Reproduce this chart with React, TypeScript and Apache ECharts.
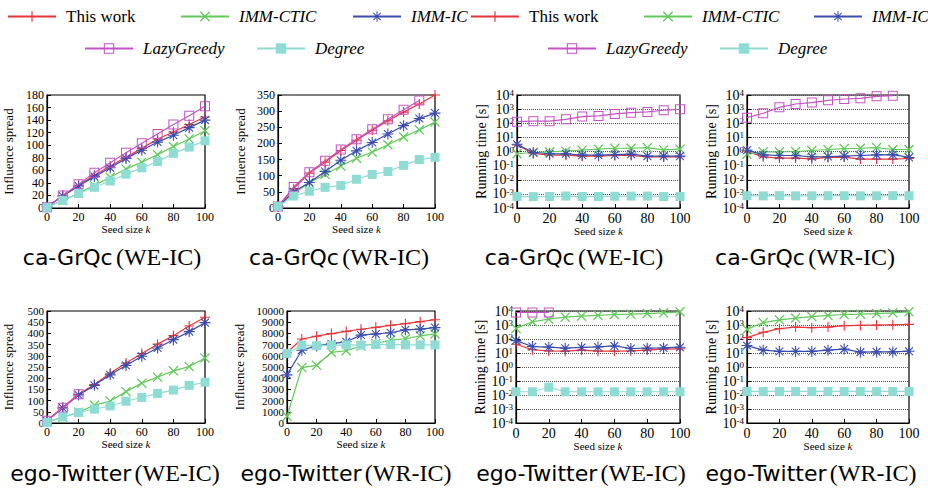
import React, { useEffect, useRef } from 'react';
import * as echarts from 'echarts';

// ---------- data ----------
const ks = [0, 10, 20, 30, 40, 50, 60, 70, 80, 90, 100];
const methodNames = ['This work', 'IMM-CTIC', 'IMM-IC', 'LazyGreedy', 'Degree'];

// ca-GrQc (WE-IC) influence spread
const grqcWeSpreadThis = [2, 19, 36, 52, 67, 81, 95, 110, 121, 133, 145];
const grqcWeSpreadCtic = [2, 12, 24, 36, 49, 62, 73, 85, 98, 110, 123];
const grqcWeSpreadIc = [2, 19, 35, 50, 64, 79, 92, 105, 116, 128, 140];
const grqcWeSpreadLazy = [1, 20, 38, 56, 72, 88, 103, 118, 133, 147, 162];
const grqcWeSpreadDegree = [1, 12, 23, 33, 43, 54, 64, 74, 87, 97, 107];

// ca-GrQc (WR-IC) influence spread
const grqcWrSpreadThis = [5, 60, 108, 142, 178, 210, 241, 270, 297, 322, 350];
const grqcWrSpreadCtic = [5, 45, 78, 104, 130, 154, 173, 196, 220, 242, 266];
const grqcWrSpreadIc = [5, 50, 79, 113, 148, 177, 203, 229, 255, 277, 294];
const grqcWrSpreadLazy = [5, 65, 111, 146, 181, 213, 244, 275, 304, 333];
const grqcWrSpreadDegree = [5, 37, 52, 64, 70, 89, 104, 113, 132, 150, 157];

// ca-GrQc (WE-IC) running time
const grqcWeTimeThis = [2.9, 0.72, 0.55, 0.55, 0.47, 0.47, 0.52, 0.52, 0.42, 0.42, 0.42];
const grqcWeTimeCtic = [0.69, 0.85, 0.95, 1.05, 1.24, 1.46, 1.7, 1.7, 1.9, 1.3, 1.46];
const grqcWeTimeIc = [3.3, 0.85, 0.69, 0.69, 0.55, 0.55, 0.6, 0.65, 0.47, 0.47, 0.47];
const grqcWeTimeLazy = [130, 140, 140, 190, 295, 330, 455, 565, 630, 830, 970];
const grqcWeTimeDegree = [0.00066, 0.00064, 0.00065, 0.0007, 0.00065, 0.00065, 0.00068, 0.0007, 0.0007, 0.00065, 0.00065];

// ca-GrQc (WR-IC) running time
const grqcWrTimeThis = [1.0, 0.42, 0.34, 0.34, 0.3, 0.38, 0.4, 0.29, 0.29, 0.29, 0.32];
const grqcWrTimeCtic = [0.65, 0.95, 0.95, 1.0, 1.18, 1.38, 1.6, 1.7, 1.9, 1.38, 1.38];
const grqcWrTimeIc = [1.24, 0.58, 0.52, 0.52, 0.42, 0.44, 0.47, 0.52, 0.58, 0.6, 0.38];
const grqcWrTimeLazy = [250, 510, 1340, 2300, 2900, 4200, 5200, 5800, 8000, 9000];
const grqcWrTimeDegree = [0.00074, 0.00072, 0.00075, 0.00072, 0.00073, 0.00074, 0.00074, 0.00072, 0.00073, 0.00075, 0.00074];

// ego-Twitter (WE-IC) influence spread
const twWeSpreadThis = [10, 70, 128, 172, 222, 268, 310, 352, 390, 433, 472];
const twWeSpreadCtic = [5, 25, 48, 80, 98, 140, 178, 205, 233, 252, 290];
const twWeSpreadIc = [10, 67, 125, 168, 215, 257, 298, 335, 372, 408, 448];
const twWeSpreadLazy = [10, 68, 128];
const twWeSpreadDegree = [3, 27, 47, 62, 76, 97, 114, 132, 147, 168, 182];

// ego-Twitter (WR-IC) influence spread
const twWrSpreadThis = [6300, 7500, 7750, 7980, 8180, 8370, 8540, 8720, 8870, 9050, 9220];
const twWrSpreadCtic = [600, 4950, 5150, 6300, 6450, 6870, 7100, 7400, 7520, 7780, 7950];
const twWrSpreadIc = [4300, 6500, 6880, 7080, 7250, 7850, 7950, 8060, 8320, 8380, 8520];
const twWrSpreadDegree = [6200, 6950, 6900, 6950, 6980, 6950, 7000, 7000, 6980, 6980, 6980];

// ego-Twitter (WE-IC) running time
const twWeTimeThis = [42, 17, 14, 13.5, 16, 13.5, 13.5, 14, 16, 19, 20];
const twWeTimeCtic = [570, 1700, 2600, 3600, 4300, 4800, 5600, 5900, 6600, 7400, 8700];
const twWeTimeIc = [77, 29, 26, 22, 25, 27, 32, 21, 22, 23, 26];
const twWeTimeLazy = [7800, 7800, 7800];
const twWeTimeDegree = [0.017, 0.017, 0.036, 0.017, 0.017, 0.017, 0.017, 0.017, 0.017, 0.017, 0.017];

// ego-Twitter (WR-IC) running time
const twWrTimeThis = [125, 300, 550, 710, 640, 710, 890, 940, 990, 1040, 1100];
const twWrTimeCtic = [490, 1500, 2350, 3100, 4000, 4800, 5600, 5900, 6600, 7400, 8700];
const twWrTimeIc = [34, 16, 13, 13, 13, 16, 19, 11.5, 12, 12, 13.5];
const twWrTimeDegree = [0.018, 0.018, 0.018, 0.018, 0.018, 0.018, 0.018, 0.018, 0.018, 0.018, 0.018];

// ---------- styles ----------
const SERIF = 'Liberation Serif';
const SANS = 'DejaVu Sans';
const methodColors = ['#e8353a', '#62c95a', '#3a4cad', '#c452c4', '#8edcd4'];

function starPath(n: number, w: number, r: number, offset: number) {
  const pts: string[] = [];
  const ri = w / Math.sin(Math.PI / n);
  for (let i = 0; i < n; i++) {
    const t = offset + (2 * Math.PI * i) / n;
    const ti = t - Math.PI / n;
    const px = -Math.sin(t), py = Math.cos(t);
    const tx = r + r * Math.cos(t), ty = r + r * Math.sin(t);
    pts.push(`${(r + ri * Math.cos(ti)).toFixed(3)},${(r + ri * Math.sin(ti)).toFixed(3)}`);
    pts.push(`${(tx - w * px).toFixed(3)},${(ty - w * py).toFixed(3)}`);
    pts.push(`${(tx + w * px).toFixed(3)},${(ty + w * py).toFixed(3)}`);
  }
  return 'path://M' + pts.join('L') + 'Z';
}

const plusSym = starPath(4, 0.55, 5, -Math.PI / 2);
const crossSym = starPath(4, 0.5, 5, -Math.PI / 4);
const starSym = starPath(8, 0.5, 5, -Math.PI / 2);
const openSq = 'path://M0,0H10V10H0Z M1,1V9H9V1Z';

const methodSymbols = [plusSym, crossSym, starSym, openSq, 'rect'];
const methodSizes = [10, 10, 11, 10, 9];

type Panel = {
  series: (number[] | null)[];
  log: boolean;
  max?: number;
  interval?: number;
  rect: { left: number; top: number; width: number; height: number };
  nameGap: number;
  title: [string, string];
  tx: number;
  ty: number;
};

const panels: Panel[] = [
  { series: [grqcWeSpreadThis, grqcWeSpreadCtic, grqcWeSpreadIc, grqcWeSpreadLazy, grqcWeSpreadDegree], log: false, max: 180, interval: 20,
    rect: { left: 47, top: 95, width: 158, height: 113 }, nameGap: 32, title: ['ca-GrQc', '(WE-IC)'], tx: 112, ty: 257 },
  { series: [grqcWrSpreadThis, grqcWrSpreadCtic, grqcWrSpreadIc, grqcWrSpreadLazy, grqcWrSpreadDegree], log: false, max: 350, interval: 50,
    rect: { left: 278, top: 95, width: 157, height: 113 }, nameGap: 31, title: ['ca-GrQc', '(WR-IC)'], tx: 339, ty: 257 },
  { series: [grqcWeTimeThis, grqcWeTimeCtic, grqcWeTimeIc, grqcWeTimeLazy, grqcWeTimeDegree], log: true,
    rect: { left: 517, top: 95, width: 163, height: 113 }, nameGap: 26, title: ['ca-GrQc', '(WE-IC)'], tx: 574, ty: 257 },
  { series: [grqcWrTimeThis, grqcWrTimeCtic, grqcWrTimeIc, grqcWrTimeLazy, grqcWrTimeDegree], log: true,
    rect: { left: 747, top: 95, width: 162, height: 113 }, nameGap: 26, title: ['ca-GrQc', '(WR-IC)'], tx: 805, ty: 257 },
  { series: [twWeSpreadThis, twWeSpreadCtic, twWeSpreadIc, twWeSpreadLazy, twWeSpreadDegree], log: false, max: 500, interval: 50,
    rect: { left: 47, top: 311, width: 158, height: 112 }, nameGap: 32, title: ['ego-Twitter', '(WE-IC)'], tx: 115, ty: 473 },
  { series: [twWrSpreadThis, twWrSpreadCtic, twWrSpreadIc, null, twWrSpreadDegree], log: false, max: 10000, interval: 1000,
    rect: { left: 287, top: 311, width: 148, height: 112 }, nameGap: 41, title: ['ego-Twitter', '(WR-IC)'], tx: 346, ty: 473 },
  { series: [twWeTimeThis, twWeTimeCtic, twWeTimeIc, twWeTimeLazy, twWeTimeDegree], log: true,
    rect: { left: 516, top: 311, width: 164, height: 112 }, nameGap: 24, title: ['ego-Twitter', '(WE-IC)'], tx: 581, ty: 473 },
  { series: [twWrTimeThis, twWrTimeCtic, twWrTimeIc, null, twWrTimeDegree], log: true,
    rect: { left: 747, top: 311, width: 162, height: 112 }, nameGap: 28, title: ['ego-Twitter', '(WR-IC)'], tx: 811, ty: 473 },
];

const legendSlots = [
  { name: 'This work', left: 2, top: 3 },
  { name: 'IMM-CTIC', left: 175, top: 3 },
  { name: 'IMM-IC', left: 347, top: 3 },
  { name: 'LazyGreedy', left: 79, top: 35 },
  { name: 'Degree', left: 251, top: 35 },
  { name: 'This work', left: 465, top: 3 },
  { name: 'IMM-CTIC', left: 638, top: 3 },
  { name: 'IMM-IC', left: 808, top: 3 },
  { name: 'LazyGreedy', left: 542, top: 35 },
  { name: 'Degree', left: 714, top: 35 },
];

function buildOption() {
  const grid = panels.map((p) => ({
    ...p.rect,
    show: true,
    borderColor: '#000',
    borderWidth: 1.2,
    backgroundColor: 'transparent',
    containLabel: false,
  }));

  const xAxis = panels.map((p, i) => {
    const fs = p.log ? 14 : 12;
    return {
      type: 'value',
      gridIndex: i,
      min: 0,
      max: 100,
      interval: 20,
      axisLine: { show: true, lineStyle: { color: '#000', width: 1.2 } },
      axisTick: { show: true, inside: true, length: 4, lineStyle: { color: '#000' } },
      axisLabel: { fontFamily: SERIF, fontSize: fs, color: '#000', margin: 3, showMinLabel: true, showMaxLabel: true, hideOverlap: false },
      splitLine: { show: false },
      name: '{a|Seed size }{i|k}',
      nameLocation: 'middle',
      nameGap: fs + 2,
      nameTextStyle: {
        rich: {
          a: { fontFamily: SERIF, fontSize: 11, color: '#000' },
          i: { fontFamily: SERIF, fontSize: 11, color: '#000', fontStyle: 'italic' },
        },
      },
    };
  });

  const yAxis = panels.map((p, i) => {
    const common = {
      gridIndex: i,
      axisLine: { show: true, lineStyle: { color: '#000', width: 1.2 } },
      axisTick: { show: true, inside: true, length: 4, lineStyle: { color: '#000' } },
      nameLocation: 'middle',
      nameGap: p.nameGap,
    };
    if (p.log) {
      return {
        ...common,
        type: 'log',
        logBase: 10,
        min: 0.0001,
        max: 10000,
        interval: 1,
        name: 'Running time [s]',
        nameTextStyle: { fontFamily: SERIF, fontSize: 14, color: '#000' },
        splitLine: { show: true, lineStyle: { type: 'dotted', color: '#555', width: 1 } },
        axisLabel: {
          margin: 3,
          showMinLabel: true,
          showMaxLabel: true,
          hideOverlap: false,
          formatter: (v: number) => `{b|10}{s|${Math.round(Math.log10(v))}}`,
          rich: {
            b: { fontFamily: SERIF, fontSize: 14, color: '#000', lineHeight: 13 },
            s: { fontFamily: SERIF, fontSize: 9, color: '#000', lineHeight: 8, verticalAlign: 'top' },
          },
        },
      };
    }
    const steps = (p.max as number) / (p.interval as number);
    const fs = Math.min(12, Math.floor(p.rect.height / steps));
    return {
      ...common,
      type: 'value',
      min: 0,
      max: p.max,
      interval: p.interval,
      name: 'Influence spread',
      nameTextStyle: { fontFamily: SERIF, fontSize: 13, color: '#000' },
      splitLine: { show: false },
      axisLabel: {
        margin: 3,
        fontFamily: SERIF,
        fontSize: fs,
        color: '#000',
        lineHeight: fs - 1,
        showMinLabel: true, showMaxLabel: true, hideOverlap: false,
        formatter: (v: number) => String(v),
      },
    };
  });

  const series: any[] = [];
  panels.forEach((p, i) => {
    p.series.forEach((arr, m) => {
      if (!arr) return;
      series.push({
        type: 'line',
        name: methodNames[m],
        xAxisIndex: i,
        yAxisIndex: i,
        data: arr.map((v, j) => [ks[j], v]),
        symbol: methodSymbols[m],
        symbolSize: methodSizes[m],
        showSymbol: true,
        lineStyle: { color: methodColors[m], width: 1.2 },
        itemStyle: { color: methodColors[m] },
        z: 2 + m,
      });
    });
  });

  const legend = legendSlots.map((s) => ({
    left: s.left,
    top: s.top,
    orient: 'horizontal',
    itemWidth: 48,
    itemHeight: 13,
    selectedMode: false,
    data: [{ name: s.name, textStyle: { fontStyle: s.name === 'This work' ? 'normal' : 'italic' } }],
    textStyle: { fontFamily: SERIF, fontSize: 17, color: '#000', padding: [0, 0, 0, 5] },
  }));

  const graphic = panels.map((p) => ({
    type: 'text',
    x: p.tx,
    y: p.ty,
    style: {
      text: `{s|${p.title[0]}} {r|${p.title[1]}}`,
      align: 'center',
      verticalAlign: 'middle',
      rich: {
        s: { fontFamily: SANS, fontSize: 22, fill: '#000' },
        r: { fontFamily: SERIF, fontSize: 24, fill: '#000' },
      },
    },
  }));

  return {
    animation: false,
    backgroundColor: '#fff',
    grid,
    xAxis,
    yAxis,
    series,
    legend,
    graphic,
  };
}

export default function App() {
  const ref = useRef<HTMLDivElement>(null);
  useEffect(() => {
    if (!ref.current) return;
    const chart = echarts.init(ref.current, undefined, { renderer: 'svg' });
    chart.setOption(buildOption() as any);
    return () => chart.dispose();
  }, []);
  return <div ref={ref} style={{ position: 'absolute', left: 0, top: 0, width: 928, height: 490 }} />;
}
